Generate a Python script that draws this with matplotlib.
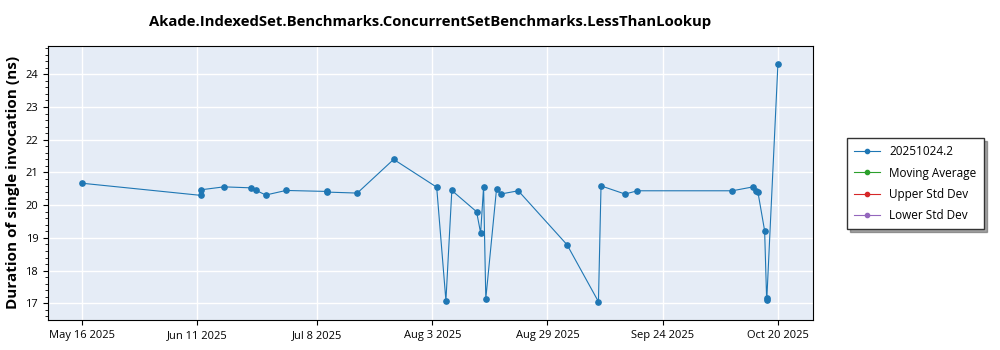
import pandas as pd
import matplotlib
matplotlib.use("Agg")
import matplotlib.pyplot as plt
from matplotlib.ticker import MultipleLocator

# Benchmark run timestamps and measured durations (ns)
run_times = [
    "2025-05-16 00:00", "2025-06-11 18:00", "2025-06-11 19:00", "2025-06-17 00:00",
    "2025-06-23 02:00", "2025-06-24 07:00", "2025-06-26 10:00", "2025-07-01 00:00",
    "2025-07-10 04:00", "2025-07-10 05:00", "2025-07-17 02:00", "2025-07-25 07:00",
    "2025-08-04 00:00", "2025-08-06 02:00", "2025-08-07 10:00", "2025-08-13 00:00",
    "2025-08-13 22:00", "2025-08-14 14:00", "2025-08-15 02:00", "2025-08-17 12:00",
    "2025-08-18 10:00", "2025-08-22 10:00", "2025-09-02 10:00", "2025-09-09 12:00",
    "2025-09-10 02:00", "2025-09-15 12:00", "2025-09-18 07:00", "2025-10-09 17:00",
    "2025-10-14 10:00", "2025-10-15 00:00", "2025-10-15 12:00", "2025-10-17 00:00",
    "2025-10-17 11:00", "2025-10-17 12:00", "2025-10-20 00:00",
]
durations = [
    20.67, 20.30, 20.47, 20.56,
    20.53, 20.45, 20.31, 20.45,
    20.42, 20.40, 20.37, 21.40,
    20.55, 17.08, 20.45, 19.80,
    19.15, 20.56, 17.14, 20.49,
    20.34, 20.44, 18.79, 17.05,
    20.59, 20.34, 20.44, 20.44,
    20.56, 20.43, 20.39, 19.22,
    17.10, 17.15, 24.31,
]

series_label = "20251024.2"
extra_labels = ["Moving Average", "Upper Std Dev", "Lower Std Dev"]
extra_colors = ["#2ca02c", "#d62728", "#9467bd"]
tick_dates = ["2025-05-16", "2025-06-11", "2025-07-08", "2025-08-03",
              "2025-08-29", "2025-09-24", "2025-10-20"]
tick_labels = ["May 16 2025", "Jun 11 2025", "Jul 8 2025", "Aug 3 2025",
               "Aug 29 2025", "Sep 24 2025", "Oct 20 2025"]

plt.rcParams["font.family"] = ["Open Sans", "DejaVu Sans"]

x = pd.to_datetime(run_times)

fig = plt.figure(figsize=(10, 3.5), dpi=100)
ax = fig.add_axes([0.048, 0.0857, 0.765, 0.7833])
ax.set_facecolor("#E5ECF6")

ax.plot(x, durations, color="#1f77b4", linewidth=0.8, marker="o",
        markersize=3.8, label=series_label, zorder=3)
for lbl, col in zip(extra_labels, extra_colors):
    ax.plot([], [], color=col, linewidth=0.8, marker="o", markersize=3.8, label=lbl)

ax.set_xlim(pd.Timestamp("2025-05-08 07:00"), pd.Timestamp("2025-10-27 22:00"))
ax.set_ylim(16.49, 24.87)
ax.set_xticks(pd.to_datetime(tick_dates))
ax.set_xticklabels(tick_labels, fontsize=8)
ax.yaxis.set_major_locator(MultipleLocator(1))
ax.yaxis.set_minor_locator(MultipleLocator(0.2))
ax.tick_params(axis="y", labelsize=8)
ax.tick_params(axis="both", which="both", direction="out", color="black")
ax.tick_params(axis="y", which="minor", length=2)
ax.grid(True, color="white", linewidth=1)
ax.set_axisbelow(True)
for s in ax.spines.values():
    s.set_color("black")

ax.set_title("Akade.IndexedSet.Benchmarks.ConcurrentSetBenchmarks.LessThanLookup",
             fontsize=10.7, fontweight="bold", pad=14)
ax.set_ylabel("Duration of single invocation (ns)", fontsize=11, fontweight="bold")

fig.legend(loc="upper left", bbox_to_anchor=(0.841, 0.622), fontsize=8.5,
           frameon=True, fancybox=False, shadow=True, edgecolor="#333333",
           handlelength=2.2, borderpad=0.6, labelspacing=0.7, markerscale=0.8)

fig.savefig("out.png", dpi=100)
